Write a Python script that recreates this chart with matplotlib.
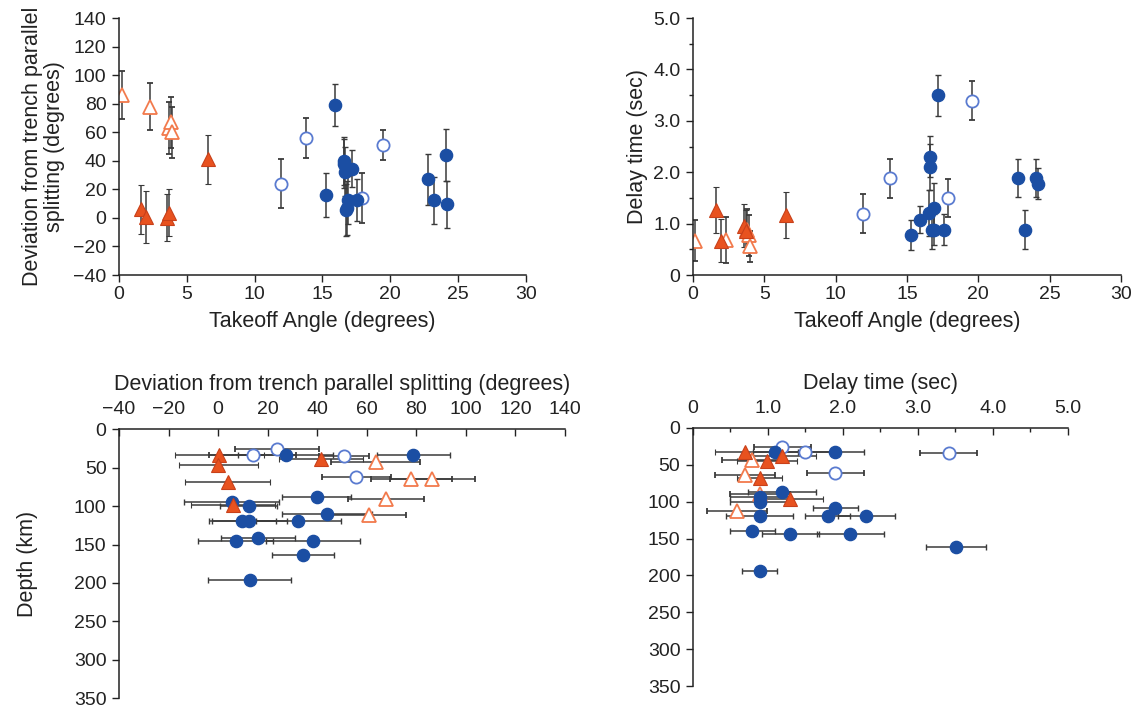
import matplotlib
matplotlib.use("Agg")
import matplotlib.pyplot as plt
from matplotlib.ticker import MultipleLocator

plt.rcParams['font.family'] = ['Liberation Sans', 'DejaVu Sans']
plt.rcParams['font.size'] = 14

# --- top left: takeoff angle vs deviation (degrees) ---
tl_fc_x = [15.9, 15.3, 16.6, 16.65, 17.2, 16.9, 16.75, 17.55, 22.8, 23.2, 24.1, 24.2, 16.6, 16.8]
tl_fc_y = [79, 16, 40, 32.5, 34.5, 12.5, 5.5, 12.5, 27, 12.5, 44, 9.5, 38, 7]
tl_fc_e = [14.5, 15.5, 17, 17, 13, 17, 18, 15, 18, 16.5, 18, 16.5, 17, 19]
tl_oc_x = [11.95, 13.8, 17.95, 19.5]
tl_oc_y = [24, 56, 14, 51]
tl_oc_e = [17, 14, 17.5, 10.5]
tl_ft_x = [1.65, 2.0, 3.55, 3.7, 6.55]
tl_ft_y = [6, 0.5, 0, 3.5, 41]
tl_ft_e = [17, 18, 16.5, 16.5, 17]
tl_ot_x = [0.2, 2.25, 3.65, 3.85, 3.9]
tl_ot_y = [86, 78, 63, 67, 60]
tl_ot_e = [17, 16.5, 18, 18, 18]

# --- top right: takeoff angle vs delay time (sec) ---
tr_fc_x = [17.15, 16.6, 16.6, 16.9, 16.55, 15.9, 15.3, 16.75, 16.9, 17.6, 22.8, 23.25, 24.05, 24.2]
tr_fc_y = [3.5, 2.3, 2.1, 1.3, 1.2, 1.08, 0.78, 0.88, 0.88, 0.88, 1.88, 0.88, 1.88, 1.78]
tr_fc_e = [0.4, 0.4, 0.45, 0.5, 0.45, 0.27, 0.3, 0.38, 0.3, 0.3, 0.37, 0.38, 0.37, 0.3]
tr_oc_x = [11.95, 13.8, 17.9, 19.55]
tr_oc_y = [1.19, 1.88, 1.49, 3.39]
tr_oc_e = [0.38, 0.38, 0.37, 0.38]
tr_ft_x = [1.6, 2.0, 3.58, 3.7, 6.55]
tr_ft_y = [1.27, 0.67, 0.96, 0.86, 1.17]
tr_ft_e = [0.45, 0.42, 0.42, 0.4, 0.45]
tr_ot_x = [0.12, 2.3, 3.8, 3.9, 4.0]
tr_ot_y = [0.67, 0.68, 0.88, 0.77, 0.56]
tr_ot_e = [0.4, 0.45, 0.4, 0.4, 0.3]

# --- bottom left: deviation vs depth (km) ---
bl_fc_x = [27.2, 78.8, 39.8, 5.4, 12.4, 43.9, 9.7, 12.6, 32.4, 7, 16.1, 38.2, 34.2, 12.8]
bl_fc_d = [33, 33, 88, 94, 100, 110, 120, 120, 120, 145, 141, 145, 164, 196]
bl_fc_e = [19, 14.7, 14, 19, 11.5, 18, 13.5, 15, 17, 15, 15, 19, 12.6, 16.7]
bl_oc_x = [23.8, 14, 50.7, 55.8]
bl_oc_d = [26, 33, 35, 62]
bl_oc_e = [17, 17.5, 10, 14]
bl_ft_x = [0.5, 0, 3.8, 6, 41.6]
bl_ft_d = [33, 46, 69, 98, 38]
bl_ft_e = [18, 16, 17, 17, 17]
bl_ot_x = [63.6, 78, 86.5, 67.7, 60.7]
bl_ot_d = [42, 65, 65, 91, 112]
bl_ot_e = [18, 16.5, 17, 15.5, 15]

# --- bottom right: delay time vs depth (km) ---
br_fc_x = [1.1, 1.9, 1.19, 0.89, 0.89, 1.9, 0.89, 1.8, 2.31, 0.79, 1.3, 2.1, 3.51, 0.89]
br_fc_d = [33, 33, 87, 94, 100, 109, 120, 120, 120, 140, 144, 144, 162, 194]
br_fc_e = [0.3, 0.38, 0.45, 0.4, 0.4, 0.3, 0.45, 0.3, 0.38, 0.3, 0.38, 0.45, 0.4, 0.23]
br_oc_x = [1.19, 1.49, 3.41, 1.9]
br_oc_d = [25.5, 33, 34.5, 61]
br_oc_e = [0.38, 0.37, 0.38, 0.38]
br_ft_x = [0.69, 0.99, 1.19, 0.89, 1.29]
br_ft_d = [33, 45.5, 38.6, 68, 97]
br_ft_e = [0.4, 0.4, 0.45, 0.3, 0.45]
br_ot_x = [0.79, 0.69, 0.89, 0.59]
br_ot_d = [43, 64, 90, 112]
br_ot_e = [0.4, 0.4, 0.4, 0.4]

BLUE = '#1b4ea3'
OPEN_BLUE = '#5a7bd0'
ORANGE = '#e8521f'
OPEN_ORANGE = '#f27a4c'
AXIS = '#222222'

styles = {
    'ot': dict(marker='^', ms=9.5, mfc='white', mec=OPEN_ORANGE, mew=1.3),
    'oc': dict(marker='o', ms=8.8, mfc='white', mec=OPEN_BLUE, mew=1.3),
    'fc': dict(marker='o', ms=8.8, mfc=BLUE, mec=BLUE, mew=1),
    'ft': dict(marker='^', ms=9.5, mfc=ORANGE, mec='#c8401a', mew=0.8),
}


def draw(ax, x, y, e, kind, horizontal=False):
    kw = dict(ls='none', ecolor='#3a3a3a', elinewidth=1.1, capsize=2, capthick=1)
    kw.update(styles[kind])
    if horizontal:
        ax.errorbar(x, y, xerr=e, **kw)
    else:
        ax.errorbar(x, y, yerr=e, **kw)


fig = plt.figure(figsize=(11.36, 7.07), dpi=100)

ax1 = fig.add_axes([0.1048, 0.611, 0.358, 0.3635])
ax2 = fig.add_axes([0.610, 0.611, 0.3768, 0.3635])
ax3 = fig.add_axes([0.1048, 0.0127, 0.3926, 0.380])
ax4 = fig.add_axes([0.610, 0.0297, 0.330, 0.365])

# top left
draw(ax1, tl_ot_x, tl_ot_y, tl_ot_e, 'ot')
draw(ax1, tl_oc_x, tl_oc_y, tl_oc_e, 'oc')
draw(ax1, tl_fc_x, tl_fc_y, tl_fc_e, 'fc')
draw(ax1, tl_ft_x, tl_ft_y, tl_ft_e, 'ft')
ax1.set_xlim(0, 30)
ax1.set_ylim(-40, 140)
ax1.set_xticks(range(0, 31, 5))
ax1.set_yticks(range(-40, 141, 20))
ax1.set_xlabel('Takeoff Angle (degrees)', fontsize=15.5, labelpad=6)
ax1.set_ylabel('Deviation from trench parallel\nsplitting (degrees)', fontsize=15.5,
               linespacing=1.05, labelpad=6)

# top right
draw(ax2, tr_ot_x, tr_ot_y, tr_ot_e, 'ot')
draw(ax2, tr_oc_x, tr_oc_y, tr_oc_e, 'oc')
draw(ax2, tr_fc_x, tr_fc_y, tr_fc_e, 'fc')
draw(ax2, tr_ft_x, tr_ft_y, tr_ft_e, 'ft')
ax2.set_xlim(0, 30)
ax2.set_ylim(0, 5)
ax2.set_xticks(range(0, 31, 5))
ax2.set_yticks([0, 1, 2, 3, 4, 5])
ax2.set_yticklabels(['0', '1.0', '2.0', '3.0', '4.0', '5.0'])
ax2.yaxis.set_minor_locator(MultipleLocator(0.5))
ax2.set_xlabel('Takeoff Angle (degrees)', fontsize=15.5, labelpad=6)
ax2.set_ylabel('Delay time (sec)', fontsize=15.5, labelpad=4)

# bottom left
draw(ax3, bl_ot_x, bl_ot_d, bl_ot_e, 'ot', True)
draw(ax3, bl_oc_x, bl_oc_d, bl_oc_e, 'oc', True)
draw(ax3, bl_fc_x, bl_fc_d, bl_fc_e, 'fc', True)
draw(ax3, bl_ft_x, bl_ft_d, bl_ft_e, 'ft', True)
ax3.set_xlim(-40, 140)
ax3.set_ylim(350, 0)
ax3.set_xticks(range(-40, 141, 20))
ax3.set_yticks(range(0, 351, 50))
ax3.set_xlabel('Deviation from trench parallel splitting (degrees)', fontsize=15.5, labelpad=8)
ax3.set_ylabel('Depth (km)', fontsize=15.5, labelpad=26)

# bottom right
draw(ax4, br_ot_x, br_ot_d, br_ot_e, 'ot', True)
draw(ax4, br_oc_x, br_oc_d, br_oc_e, 'oc', True)
draw(ax4, br_fc_x, br_fc_d, br_fc_e, 'fc', True)
draw(ax4, br_ft_x, br_ft_d, br_ft_e, 'ft', True)
ax4.set_xlim(0, 5)
ax4.set_ylim(350, 0)
ax4.set_xticks([0, 1, 2, 3, 4, 5])
ax4.set_xticklabels(['0', '1.0', '2.0', '3.0', '4.0', '5.0'])
ax4.xaxis.set_minor_locator(MultipleLocator(0.5))
ax4.set_yticks(range(0, 351, 50))
ax4.set_xlabel('Delay time (sec)', fontsize=15.5, labelpad=8)

for ax in (ax1, ax2):
    ax.spines['top'].set_visible(False)
    ax.spines['right'].set_visible(False)

for ax in (ax1, ax2, ax3, ax4):
    ax.set_facecolor('none')
    for s in ax.spines.values():
        s.set_linewidth(1.1)
        s.set_color(AXIS)
    ax.tick_params(which='both', direction='out', width=1, labelsize=14,
                   color=AXIS, labelcolor=AXIS)
    ax.tick_params(which='major', length=5)
    ax.tick_params(which='minor', length=3)
    ax.tick_params(axis='y', pad=4)
    ax.tick_params(axis='x', pad=3)
    ax.xaxis.label.set_color(AXIS)
    ax.yaxis.label.set_color(AXIS)

for ax in (ax3, ax4):
    ax.spines['bottom'].set_visible(False)
    ax.spines['right'].set_visible(False)
    ax.xaxis.set_ticks_position('top')
    ax.xaxis.set_label_position('top')
    ax.tick_params(axis='x', which='both', direction='in', pad=8)

fig.savefig('out.png', dpi=100)
